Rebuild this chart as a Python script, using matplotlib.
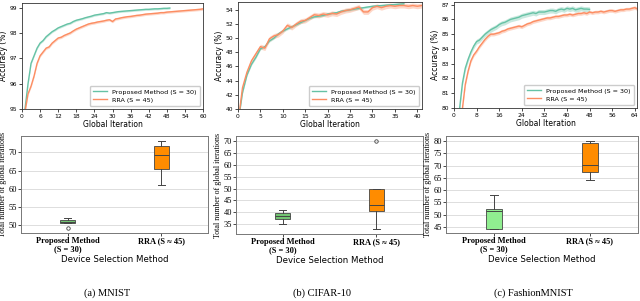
import numpy as np
import matplotlib
matplotlib.use('Agg')
import matplotlib.pyplot as plt

W, H = 640, 301

# ---- accuracy curves ----
# MNIST
mn_prop = [94.6, 95.0, 96.0, 96.8, 97.1, 97.4, 97.6, 97.7, 97.85, 97.95, 98.05, 98.12,
           98.2, 98.25, 98.3, 98.35, 98.38, 98.45, 98.5, 98.53, 98.56, 98.6, 98.63, 98.66,
           98.7, 98.72, 98.74, 98.76, 98.8, 98.78, 98.8, 98.82, 98.84, 98.85, 98.86, 98.87,
           98.88, 98.89, 98.9, 98.91, 98.92, 98.93, 98.93, 98.94, 98.95, 98.95, 98.96, 98.97,
           98.97, 98.98]
mn_rra = [94.4, 94.9, 95.6, 95.9, 96.3, 96.8, 97.1, 97.25, 97.4, 97.45, 97.6, 97.7,
          97.8, 97.83, 97.9, 97.95, 98.0, 98.08, 98.15, 98.2, 98.25, 98.3, 98.35, 98.38,
          98.4, 98.43, 98.45, 98.47, 98.5, 98.52, 98.45, 98.55, 98.57, 98.6, 98.62, 98.64,
          98.65, 98.67, 98.69, 98.7, 98.72, 98.74, 98.75, 98.76, 98.77, 98.78, 98.8, 98.8,
          98.82, 98.83, 98.84, 98.85, 98.86, 98.87, 98.88, 98.89, 98.9, 98.91, 98.92, 98.93,
          98.95]
mn_band = (0.04, 0.05)

# CIFAR-10
cf_prop = [38.0, 42.3, 44.8, 46.3, 47.3, 48.5, 48.8, 49.6, 50.0, 50.6, 51.0, 51.3,
           51.6, 51.9, 52.2, 52.5, 52.8, 53.0, 53.1, 53.2, 53.4, 53.5, 53.6, 53.8,
           53.9, 54.0, 54.1, 54.2, 54.3, 54.4, 54.5, 54.55, 54.6, 54.65, 54.7, 54.75,
           54.8, 54.85]
cf_rra = [38.0, 43.0, 45.2, 46.8, 47.8, 48.8, 48.6, 49.9, 50.3, 50.5, 51.0, 51.8,
          51.5, 52.0, 52.4, 52.5, 52.9, 53.3, 53.2, 53.4, 53.3, 53.5, 53.4, 53.7,
          53.9, 54.0, 54.2, 54.4, 53.7, 53.7, 54.3, 54.5, 54.3, 54.5, 54.6, 54.5,
          54.6, 54.6, 54.5, 54.6, 54.5, 54.6]
cf_band = (0.15, 0.35)

# FashionMNIST
fm_prop = [78.0, 79.0, 80.0, 81.7, 82.7, 83.3, 83.8, 84.2, 84.5, 84.6, 84.8, 85.0,
           85.15, 85.3, 85.4, 85.5, 85.65, 85.75, 85.8, 85.9, 86.0, 86.05, 86.1, 86.15,
           86.25, 86.3, 86.35, 86.4, 86.45, 86.4, 86.5, 86.5, 86.5, 86.55, 86.6, 86.6,
           86.55, 86.65, 86.7, 86.65, 86.75, 86.7, 86.75, 86.65, 86.7, 86.75, 86.7, 86.7,
           86.68]
fm_rra = [78.0, 78.5, 79.2, 80.0, 81.6, 82.5, 83.2, 83.6, 83.85, 84.15, 84.4, 84.65,
          84.85, 85.0, 85.0, 85.05, 85.1, 85.2, 85.25, 85.35, 85.4, 85.45, 85.5, 85.55,
          85.5, 85.6, 85.7, 85.75, 85.85, 85.9, 85.95, 86.0, 86.05, 86.1, 86.1, 86.15,
          86.2, 86.2, 86.25, 86.3, 86.3, 86.35, 86.3, 86.35, 86.4, 86.4, 86.45, 86.4,
          86.5, 86.45, 86.5, 86.5, 86.55, 86.5, 86.55, 86.6, 86.6, 86.55, 86.6, 86.65,
          86.65, 86.7, 86.7, 86.75, 86.8, 86.7]
fm_band = (0.17, 0.12)

# ---- boxplot stats ----
box_labels = ['Proposed Method\n(S = 30)', 'RRA (S \u2248 45)']
# med, q1, q3, whislo, whishi, fliers
mn_box = [(51.0, 50.6, 51.4, 50.6, 52.0, [49.2]),
          (69.2, 65.5, 71.6, 61.1, 73.1, [])]
cf_box = [(38.5, 37.2, 39.6, 35.0, 41.0, []),
          (43.0, 40.5, 49.7, 33.0, 49.7, [70.0])]
fm_box = [(51.6, 44.2, 52.2, 44.2, 58.1, []),
          (70.2, 67.2, 79.1, 64.1, 80.0, [])]

GREEN = '#66c2a5'
ORANGE = '#fc8d62'


def px(l, t, r, b):
    return [l / W, 1 - b / H, (r - l) / W, (b - t) / H]


fig = plt.figure(figsize=(W / 100, H / 100), dpi=100)


def top_panel(rect, prop, rra, band, xlim, xticks, ylim, yticks):
    ax = fig.add_axes(px(*rect))
    x1 = np.arange(len(prop))
    x2 = np.arange(len(rra))
    p = np.array(prop)
    r = np.array(rra)
    ax.fill_between(x1, p - band[0], p + band[0], color=GREEN, alpha=0.35, lw=0)
    ax.fill_between(x2, r - band[1], r + band[1], color=ORANGE, alpha=0.35, lw=0)
    ax.plot(x1, p, color=GREEN, lw=1.0, label='Proposed Method (S = 30)')
    ax.plot(x2, r, color=ORANGE, lw=1.0, label='RRA (S = 45)')
    ax.set_xlim(*xlim)
    ax.set_ylim(*ylim)
    ax.set_xticks(xticks)
    ax.set_yticks(yticks)
    ax.tick_params(labelsize=4.3, length=2, width=0.5, pad=1.5)
    ax.set_xlabel('Global Iteration', fontsize=5.5, labelpad=1)
    ax.set_ylabel('Accuracy (%)', fontsize=5.5, labelpad=1)
    for s in ax.spines.values():
        s.set_linewidth(0.6)
        s.set_color('#333333')
    ax.legend(loc='lower right', fontsize=4.6, handlelength=2.2, borderpad=0.5,
              labelspacing=0.4, framealpha=1, edgecolor='#cccccc', fancybox=True)
    return ax


top_panel((22, 3, 203, 109), mn_prop, mn_rra, mn_band, (0, 60), range(0, 61, 6),
          (95, 99.18), [95, 96, 97, 98, 99])
top_panel((238, 2, 422, 109), cf_prop, cf_rra, cf_band, (0, 41.05), range(0, 41, 5),
          (40, 55.1), range(40, 55, 2))
top_panel((454, 2, 637, 108), fm_prop, fm_rra, fm_band, (0, 64.8), range(0, 65, 8),
          (80, 87.18), range(80, 88))


def box_panel(rect, stats, ylim, yticks, green, caption, cx):
    ax = fig.add_axes(px(*rect))
    bx = []
    for lab, s in zip(box_labels, stats):
        bx.append(dict(med=s[0], q1=s[1], q3=s[2], whislo=s[3], whishi=s[4],
                       fliers=s[5], label=lab))
    art = ax.bxp(bx, positions=[1, 2], widths=0.16, patch_artist=True,
                 boxprops=dict(linewidth=0.6, edgecolor='#444444'),
                 medianprops=dict(color='#444444', linewidth=0.7),
                 whiskerprops=dict(color='#444444', linewidth=0.7),
                 capprops=dict(color='#444444', linewidth=0.7),
                 flierprops=dict(marker='o', markersize=2.5, markerfacecolor='none',
                                 markeredgecolor='#444444', markeredgewidth=0.6))
    art['boxes'][0].set_facecolor(green)
    art['boxes'][1].set_facecolor('#ff8c00')
    ax.set_xlim(0.5, 2.5)
    ax.set_ylim(*ylim)
    ax.set_yticks(yticks)
    ax.yaxis.grid(True, color='#dddddd', linewidth=0.7)
    ax.set_axisbelow(True)
    ax.tick_params(axis='y', labelsize=6, length=2, width=0.5, pad=1)
    ax.tick_params(axis='x', length=2, width=0.5, pad=1)
    for t in ax.get_yticklabels():
        t.set_family('Liberation Serif')
    for t in ax.get_xticklabels():
        t.set_family('Liberation Serif')
        t.set_fontsize(6)
        t.set_fontweight('bold')
        t.set_linespacing(1.0)
    ax.set_ylabel('Total number of global iterations', fontsize=5.8,
                  family='Liberation Serif', labelpad=1)
    ax.set_xlabel('Device Selection Method', fontsize=6.2, labelpad=1)
    for s in ax.spines.values():
        s.set_linewidth(0.7)
        s.set_color('#777777')
    fig.text(cx / W, 1 - 293 / H, caption, ha='center', va='center', fontsize=7.5,
             family='Liberation Serif')
    return ax


box_panel((21, 136, 208, 233), mn_box, (47.9, 74.45), range(50, 71, 5), '#72c472',
          '(a) MNIST', 107)
box_panel((236, 136, 423, 234), cf_box, (30.9, 72.1), range(35, 71, 5), '#72c472',
          '(b) CIFAR-10', 322)
box_panel((446, 136, 638, 233), fm_box, (42.6, 82.0), range(45, 81, 5), '#90ee90',
          '(c) FashionMNIST', 533)

fig.savefig('out.png', dpi=100)
